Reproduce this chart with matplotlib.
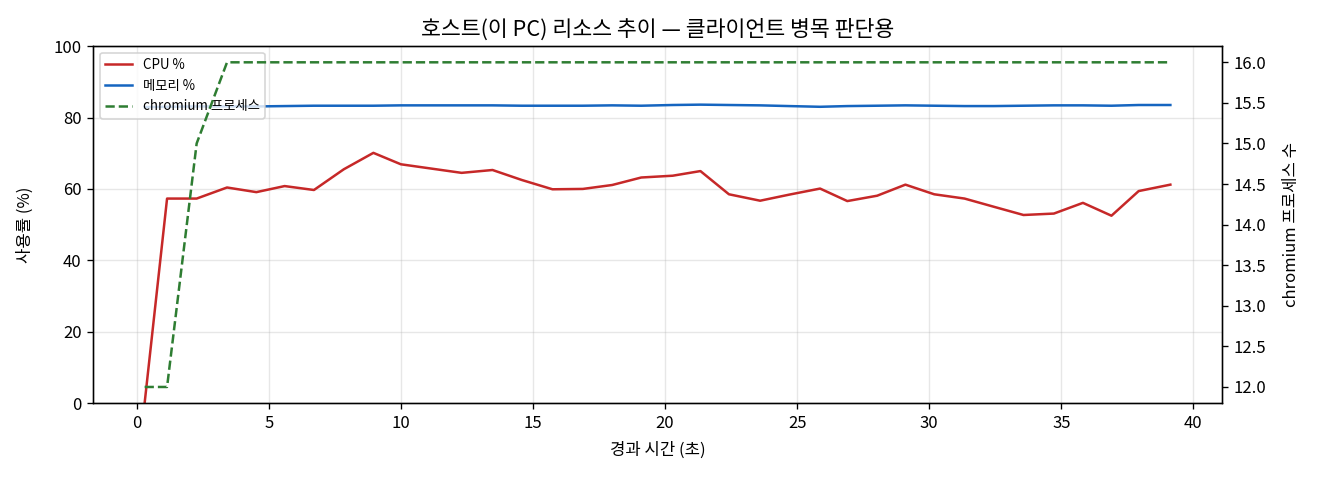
import matplotlib
matplotlib.use("Agg")
import matplotlib.pyplot as plt

plt.rcParams['font.family'] = ['Noto Sans CJK KR', 'DejaVu Sans']

# 경과 시간 (초)
t = [0.3, 1.15, 2.27, 3.42, 4.53, 5.6, 6.71, 7.84, 8.96, 10.0, 11.15, 12.3,
     13.47, 14.58, 15.74, 16.89, 18.0, 19.1, 20.29, 21.34, 22.42, 23.6, 24.7,
     25.87, 26.9, 28.03, 29.1, 30.19, 31.34, 32.45, 33.57, 34.72, 35.82, 36.9,
     37.93, 39.13]
cpu = [0, 57.3, 57.3, 60.4, 59.1, 60.8, 59.7, 65.5, 70.1, 66.9, 65.7, 64.5,
       65.3, 62.5, 59.9, 60.0, 61.1, 63.2, 63.7, 65.0, 58.5, 56.7, 58.4,
       60.1, 56.6, 58.1, 61.2, 58.5, 57.3, 55.0, 52.7, 53.1, 56.1, 52.5,
       59.4, 61.2]
mem = [82.9, 83.0, 83.1, 83.1, 83.1, 83.2, 83.3, 83.3, 83.3, 83.4, 83.4, 83.4,
       83.4, 83.3, 83.3, 83.3, 83.4, 83.3, 83.5, 83.6, 83.5, 83.4, 83.2,
       83.0, 83.2, 83.3, 83.4, 83.3, 83.2, 83.2, 83.3, 83.4, 83.4, 83.3,
       83.5, 83.5]
procs = [12, 12, 15, 16, 16, 16, 16, 16, 16, 16, 16, 16, 16, 16, 16, 16, 16,
         16, 16, 16, 16, 16, 16, 16, 16, 16, 16, 16, 16, 16, 16, 16, 16, 16,
         16, 16]

fig, ax = plt.subplots(figsize=(11, 4), dpi=120)
fig.subplots_adjust(left=0.0707, right=0.9255, top=0.904, bottom=0.160)

l1, = ax.plot(t, cpu, color="#c62828", lw=1.5, label="CPU %")
l2, = ax.plot(t, mem, color="#1565c0", lw=1.5, label="메모리 %")
ax.set_ylim(0, 100)
ax.set_xlabel("경과 시간 (초)", labelpad=6)
ax.set_ylabel("사용률 (%)", labelpad=12)
ax.grid(alpha=0.3)

ax2 = ax.twinx()
l3, = ax2.plot(t, procs, color="#2e7d32", lw=1.5, ls="--", label="chromium 프로세스")
ax2.set_ylabel("chromium 프로세스 수", labelpad=10)

ax.legend(handles=[l1, l2, l3], loc="upper left", fontsize=8)
ax.set_title("호스트(이 PC) 리소스 추이 — 클라이언트 병목 판단용", fontsize=13)

fig.savefig("out.png")
